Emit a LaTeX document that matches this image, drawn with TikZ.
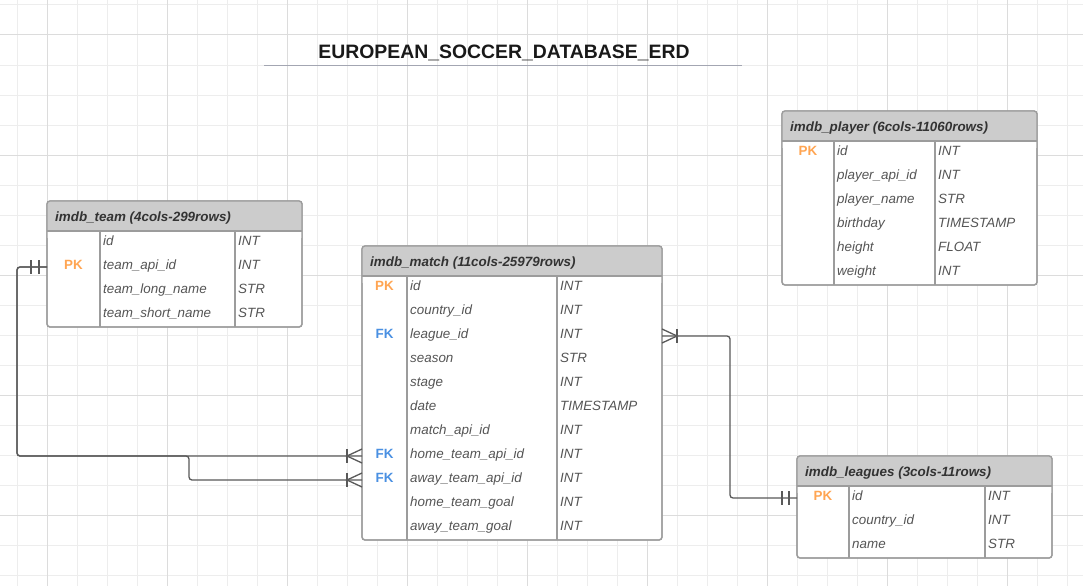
\documentclass[tikz,border=0pt]{standalone}
\usepackage{fontspec}
\setmainfont{Liberation Sans}
\usetikzlibrary{calc}
\definecolor{gridminor}{HTML}{EDEDED}
\definecolor{gridmajor}{HTML}{DCDCDC}
\definecolor{hdr}{HTML}{CCCCCC}
\definecolor{bord}{HTML}{9C9C9C}
\definecolor{txt}{HTML}{555555}
\definecolor{hdrtxt}{HTML}{333333}
\definecolor{pkc}{HTML}{FFA552}
\definecolor{fkc}{HTML}{4A90E2}
\definecolor{conn}{HTML}{595959}
\definecolor{ulc}{HTML}{A3A6B2}
\newcommand{\keyPK}{\textcolor{pkc}{PK}}
\newcommand{\keyFK}{\textcolor{fkc}{FK}}
\newcommand{\keyN}{}
\tikzset{
  tblbox/.style={draw=bord, line width=1.3pt, rounded corners=3pt, fill=white, inner sep=0pt, outer sep=0pt},
  rowtxt/.style={font=\itshape\fontsize{13.4}{16}\selectfont, text=txt, inner sep=0pt, anchor=base west},
  hdrlbl/.style={font=\bfseries\itshape\fontsize{13.4}{16}\selectfont, text=hdrtxt, inner sep=0pt, anchor=base west},
  keytxt/.style={font=\bfseries\fontsize{13.4}{16}\selectfont, inner sep=0pt, anchor=base},
  divline/.style={draw=bord, line width=1.3pt},
  conn/.style={draw=conn, line width=1.3pt},
  connpath/.style={draw=conn, line width=1.3pt, rounded corners=3pt},
}
% #1 name, #2 x, #3 y, #4 width, #5 div1, #6 div2, #7 title, #8 nrows, #9 rows
\newcommand{\erdtable}[9]{%
  \pgfmathsetmacro{\tblh}{30+24*#8}%
  \node[tblbox, minimum width=#4pt, minimum height=\tblh pt, anchor=north west] (#1) at (#2,#3) {};
  \fill[hdr, rounded corners=3pt] (#2,#3) rectangle ++(#4,36);
  \fill[white] (#2,#3+30) rectangle ++(#4,6.5);
  \draw[divline] (#2,#3+30) -- ++(#4,0);
  \draw[divline] (#2+#5,#3+30) -- (#2+#5,#3+\tblh);
  \draw[divline] (#2+#6,#3+30) -- (#2+#6,#3+\tblh);
  \draw[tblbox, fill=none] (#1.north west) rectangle (#1.south east);
  \node[hdrlbl] (#1-title) at (#2+8,#3+20.5) {#7};
  \foreach \k/\n/\t [count=\i] in {#9} {
    \node[rowtxt] (#1-r\i) at (#2+#5+3,#3+30+24*\i-9.5) {\n};
    \node[rowtxt] (#1-t\i) at (#2+#6+3,#3+30+24*\i-9.5) {\t};
    \node[keytxt] (#1-k\i) at (#2+#5/2,#3+30+24*\i-9.5) {\csname key\k\endcsname};
  }
}
\begin{document}
\begin{tikzpicture}[x=1pt,y=-1pt]
\useasboundingbox (0,0) rectangle (1083,586);
\fill[white] (0,0) rectangle (1083,586);
% grid
\foreach \x in {17,47,...,1082} \draw[gridminor, line width=1pt] (\x,0) -- (\x,586);
\foreach \y in {5,35,...,585} \draw[gridminor, line width=1pt] (0,\y) -- (1083,\y);
\foreach \x in {47,167,...,1082} \draw[gridmajor, line width=1pt] (\x,0) -- (\x,586);
\foreach \y in {35,155,...,585} \draw[gridmajor, line width=1pt] (0,\y) -- (1083,\y);
% title
\node[font=\bfseries\fontsize{19.4}{23}\selectfont, text=black!90, inner sep=0pt, anchor=base] (title) at (504,58.5) {EUROPEAN\_SOCCER\_DATABASE\_ERD};
\draw[ulc, line width=1.3pt] (264,65.7) -- (742,65.7);
% tables
\erdtable{team}{47}{201}{255}{53}{188}{imdb\_team (4cols-299rows)}{4}{N/id/INT, PK/team\_api\_id/INT, N/team\_long\_name/STR, N/team\_short\_name/STR}
\erdtable{match}{362}{246}{300}{45}{195}{imdb\_match (11cols-25979rows)}{11}{PK/id/INT, N/country\_id/INT, FK/league\_id/INT, N/season/STR, N/stage/INT, N/date/TIMESTAMP, N/match\_api\_id/INT, FK/home\_team\_api\_id/INT, FK/away\_team\_api\_id/INT, N/home\_team\_goal/INT, N/away\_team\_goal/INT}
\erdtable{player}{782}{111}{255}{52}{153}{imdb\_player (6cols-11060rows)}{6}{PK/id/INT, N/player\_api\_id/INT, N/player\_name/STR, N/birthday/TIMESTAMP, N/height/FLOAT, N/weight/INT}
\erdtable{leagues}{797}{456}{255}{52}{188}{imdb\_leagues (3cols-11rows)}{3}{PK/id/INT, N/country\_id/INT, N/name/STR}
% connector anchor coordinates
\coordinate (jl) at (17,0);
\coordinate (jm) at (189,0);
\coordinate (jr) at (730,0);
\coordinate (ta) at ($(team.west |- team-k2.base)+(0,-2.5)$);
\coordinate (m8) at ($(match.west |- match-k8.base)+(0,-2.5)$);
\coordinate (m9) at ($(match.west |- match-k9.base)+(0,-2.5)$);
\coordinate (m3) at ($(match.east |- match-k3.base)+(0,-2.5)$);
\coordinate (l1) at ($(leagues.west |- leagues-k1.base)+(0,-2.5)$);
% connectors
\draw[connpath] (ta) -- (jl |- ta) -- (jl |- m8) -- (m8);
\draw[connpath] (ta) -- (jl |- ta) -- (jl |- m8) -- (jm |- m8) -- (jm |- m9) -- (m9);
\draw[connpath] (m3) -- (jr |- m3) -- (jr |- l1) -- (l1);
% one-and-only-one marks
\foreach \d in {8,16} \draw[conn] ($(ta)+(-\d,-7)$) -- ($(ta)+(-\d,7)$);
\foreach \d in {8,15} \draw[conn] ($(l1)+(-\d,-7)$) -- ($(l1)+(-\d,7)$);
% one-or-many marks
\foreach \p in {m8,m9} {
  \draw[conn] ($(\p)+(-15,-7)$) -- ($(\p)+(-15,7)$);
  \draw[conn] ($(\p)+(0,-7)$) -- ($(\p)+(-15,0)$) -- ($(\p)+(0,7)$);
}
\draw[conn] ($(m3)+(15,-7)$) -- ($(m3)+(15,7)$);
\draw[conn] ($(m3)+(0,-7)$) -- ($(m3)+(15,0)$) -- ($(m3)+(0,7)$);
\end{tikzpicture}
\end{document}
